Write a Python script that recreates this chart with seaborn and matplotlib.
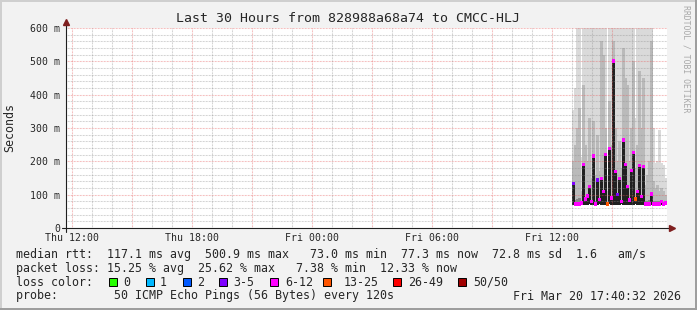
import numpy as np
import pandas as pd
import matplotlib
matplotlib.use("Agg")
import matplotlib.pyplot as plt
import seaborn as sns
from matplotlib.patches import Rectangle

# ---------------- data ----------------
title = "Last 30 Hours from 828988a68a74 to CMCC-HLJ"
end_time = "2026-03-20 17:40:32"
day0 = "2026-03-19 00:00"
data_start = "2026-03-20 13:00"
step = "6min"

median_ms = [134, 72, 72, 72, 75, 191, 87, 96, 124, 80, 216, 72, 144, 85, 149, 110,
             221, 72, 239, 90, 501, 169, 100, 149, 80, 264, 191, 125, 84, 172, 227, 87,
             110, 187, 95, 184, 72, 72, 72, 102, 72, 72, 72, 72, 79, 72, 75]
loss_cat = ["3-5", "6-12", "6-12", "6-12", "6-12", "6-12", "6-12", "6-12", "6-12", "6-12",
            "6-12", "6-12", "3-5", "6-12", "6-12", "6-12", "6-12", "13-25", "6-12", "6-12",
            "6-12", "6-12", "3-5", "6-12", "6-12", "6-12", "6-12", "6-12", "6-12", "6-12",
            "6-12", "13-25", "6-12", "6-12", "6-12", "6-12", "6-12", "6-12", "6-12", "6-12",
            "6-12", "6-12", "6-12", "6-12", "6-12", "6-12", "6-12"]
smoke_min_ms = [70, 69, 70, 70, 71, 69, 70, 70, 71, 70, 69, 70, 70, 71, 70, 70,
                69, 70, 71, 70, 70, 69, 70, 70, 71, 70, 70, 69, 70, 70, 70, 71,
                70, 69, 70, 70, 69, 70, 70, 70, 69, 70, 70, 70, 69, 70, 70]
smoke_lower_ms = [95, 85, 88, 90, 80, 100, 86, 92, 105, 84, 110, 80, 100, 84, 105, 95,
                  110, 78, 115, 88, 130, 100, 90, 100, 84, 120, 105, 100, 84, 100, 110, 86,
                  95, 105, 90, 100, 80, 82, 84, 95, 80, 80, 80, 82, 80, 78, 78]
smoke_upper_ms = [200, 250, 300, 360, 110, 430, 250, 200, 330, 150, 320, 160, 280, 170, 560, 520,
                  300, 110, 380, 250, 560, 300, 200, 260, 180, 540, 450, 430, 200, 300, 500, 180,
                  250, 470, 300, 450, 130, 160, 200, 560, 140, 120, 130, 110, 120, 110, 100]
smoke_max_ms = [354, 420, 600, 600, 214, 600, 600, 600, 600, 600, 600, 600, 600, 600, 600, 600,
                600, 160, 600, 600, 600, 600, 600, 600, 600, 600, 600, 600, 600, 600, 600, 330,
                600, 600, 600, 600, 600, 600, 600, 600, 300, 195, 200, 294, 195, 190, 150]

loss_labels = ["0", "1", "2", "3-5", "6-12", "13-25", "26-49", "50/50"]
loss_colors = ["#26ff00", "#00b8ff", "#0059ff", "#7e00ff", "#ff00ff", "#ff5500", "#ff0000", "#a10000"]

ytick_values = [0, 100, 200, 300, 400, 500, 600]
ytick_labels = ["0", "100 m", "200 m", "300 m", "400 m", "500 m", "600 m"]
xtick_times = ["2026-03-19 12:00", "2026-03-19 18:00", "2026-03-20 00:00",
               "2026-03-20 06:00", "2026-03-20 12:00"]
xtick_labels = ["Thu 12:00", "Thu 18:00", "Fri 00:00", "Fri 06:00", "Fri 12:00"]

line_rtt = "median rtt:  117.1 ms avg  500.9 ms max   73.0 ms min  77.3 ms now  72.8 ms sd  1.6   am/s"
line_loss = "packet loss: 15.25 % avg  25.62 % max   7.38 % min  12.33 % now"
line_probe = "probe:        50 ICMP Echo Pings (56 Bytes) every 120s"
stamp = "Fri Mar 20 17:40:32 2026"

# ---------------- style ----------------
sns.set_style("white")
MONO = ["DejaVu Sans Mono"]
plt.rcParams["font.family"] = MONO

W, H = 697, 310
BG = "#f2f2f2"
MINOR = (0.56, 0.56, 0.56, 0.5)
MAJOR = (0.90, 0.35, 0.35, 0.5)
DOT = (0, (0.72, 0.72))

fig = plt.figure(figsize=(W / 100, H / 100), dpi=100)
fig.patch.set_facecolor(BG)

ax = fig.add_axes([66 / W, (H - 228) / H, 601 / W, 200 / H])
ax.set_facecolor("white")

t0 = pd.Timestamp(day0)
hrs = lambda s: (pd.Timestamp(s) - t0) / pd.Timedelta(hours=1)
x_end = hrs(end_time)
x_start = x_end - 30

times = pd.date_range(data_start, periods=len(median_ms), freq=step)
xh = np.array([(t - t0) / pd.Timedelta(hours=1) for t in times])
wh = pd.Timedelta(step) / pd.Timedelta(hours=1)

df = pd.DataFrame({
    "x": xh, "xc": xh + wh / 2, "median": median_ms, "loss": loss_cat,
    "mn": smoke_min_ms, "lo": smoke_lower_ms, "up": smoke_upper_ms, "mx": smoke_max_ms,
})

# smoke
bw = wh * 1.02
ax.bar(df.x, df.mx - df.mn, bottom=df.mn, width=bw, align="edge",
       color="#dadada", linewidth=0, zorder=1)
ax.bar(df.x, df.up - df.mn, bottom=df.mn, width=bw, align="edge",
       color="#bababa", linewidth=0, zorder=1.1)
ax.bar(df.x, df.lo - df.mn, bottom=df.mn, width=bw, align="edge",
       color="#858585", linewidth=0, zorder=1.2)
ax.bar(df.x, df["median"] - df.mn, bottom=df.mn, width=bw, align="edge",
       color="#202020", linewidth=0, zorder=1.3)

# grid on top of smoke (rrdtool style)
for v in range(20, 601, 20):
    ax.axhline(v, color=MAJOR if v % 100 == 0 else MINOR, lw=0.75, ls=DOT, zorder=3)
for h in range(int(np.ceil(x_start)), int(np.floor(x_end)) + 1):
    ax.axvline(h, color=MAJOR if h % 3 == 0 else MINOR, lw=0.75, ls=DOT, zorder=3)

# median, coloured by loss
pal = dict(zip(loss_labels, loss_colors))
sns.scatterplot(data=df, x="xc", y="median", hue="loss", palette=pal, marker="s",
                s=5, linewidth=0, legend=False, ax=ax, zorder=4)

ax.set_xlim(x_start, x_end + 0.05)
ax.set_ylim(0, 600)
ax.set_xlabel("")
ax.set_ylabel("")
for sp in ax.spines.values():
    sp.set_visible(False)

ax.set_yticks(ytick_values, ytick_labels)
ax.set_yticks(range(0, 601, 20), minor=True)
ax.set_xticks([hrs(t) for t in xtick_times], xtick_labels)
ax.set_xticks(range(int(np.ceil(x_start)), int(np.floor(x_end)) + 1), minor=True)
ax.tick_params(axis="y", which="major", length=2, width=0.6, color="#1f1f1f", pad=2.4,
               labelsize=7.1, labelfontfamily="DejaVu Sans Mono")
ax.tick_params(axis="y", which="minor", length=1.4, width=0.6, color="#888888")
ax.tick_params(axis="x", which="major", length=2, width=0.6, color="#e06060", pad=1.6,
               labelsize=7.1, labelfontfamily="DejaVu Sans Mono")
ax.tick_params(axis="x", which="minor", length=1.4, width=0.6, color="#aaaaaa")

# axes with arrows
AX = "#1f1f1f"
ARROW = "#7f1f1f"
ax.plot([-0.006, 1.006], [0, 0], transform=ax.transAxes, color=AX, lw=0.8, clip_on=False, zorder=5)
ax.plot([0, 0], [-0.02, 1.02], transform=ax.transAxes, color=AX, lw=0.8, clip_on=False, zorder=5)
ax.plot([1.008], [0], marker=">", ms=4, color=ARROW, transform=ax.transAxes, clip_on=False, zorder=6)
ax.plot([0], [1.028], marker="^", ms=4, color=ARROW, transform=ax.transAxes, clip_on=False, zorder=6)

# ---------------- overlay for text / frame ----------------
ov = fig.add_axes([0, 0, 1, 1], zorder=10)
ov.set_xlim(0, W)
ov.set_ylim(H, 0)
ov.axis("off")
ov.patch.set_alpha(0)

# 3D frame
ov.add_patch(Rectangle((0, 0), W, 2, color="#cfcfcf", lw=0))
ov.add_patch(Rectangle((0, 0), 2, H, color="#cfcfcf", lw=0))
ov.add_patch(Rectangle((0, H - 2), W, 2, color="#9e9e9e", lw=0))
ov.add_patch(Rectangle((W - 2, 0), 2, H, color="#9e9e9e", lw=0))

ov.text(348, 19, title, ha="center", va="center", fontsize=9.55, family=MONO)
ov.text(10, 128, "Seconds", ha="center", va="center", rotation=90, fontsize=8.4, family=MONO)
ov.text(686, 5, "RRDTOOL / TOBI OETIKER", ha="center", va="top", rotation=270,
        fontsize=5.9, color="#a8a8a8", family=MONO)

LF = 8.4
ov.text(16, 254.3, line_rtt, ha="left", va="center", fontsize=LF, family=MONO)
ov.text(16, 268.3, line_loss, ha="left", va="center", fontsize=LF, family=MONO)
ov.text(16, 282.3, "loss color:", ha="left", va="center", fontsize=LF, family=MONO)
box_x = [108.7, 145.7, 182.7, 219.3, 270.0, 322.7, 393.3, 458.3]
lab_x = [123.0, 160.0, 196.7, 233.0, 285.0, 343.3, 408.3, 473.3]
for bx, lx, lab, col in zip(box_x, lab_x, loss_labels, loss_colors):
    ov.add_patch(Rectangle((bx, 278.3), 8, 8, facecolor=col, edgecolor="black", lw=0.7))
    ov.text(lx, 282.3, lab, ha="left", va="center", fontsize=LF, family=MONO)
ov.text(16, 296.0, line_probe, ha="left", va="center", fontsize=LF, family=MONO)
ov.text(681, 296.0, stamp, ha="right", va="center", fontsize=LF, family=MONO)

fig.savefig("out.png", dpi=100, facecolor=BG)
